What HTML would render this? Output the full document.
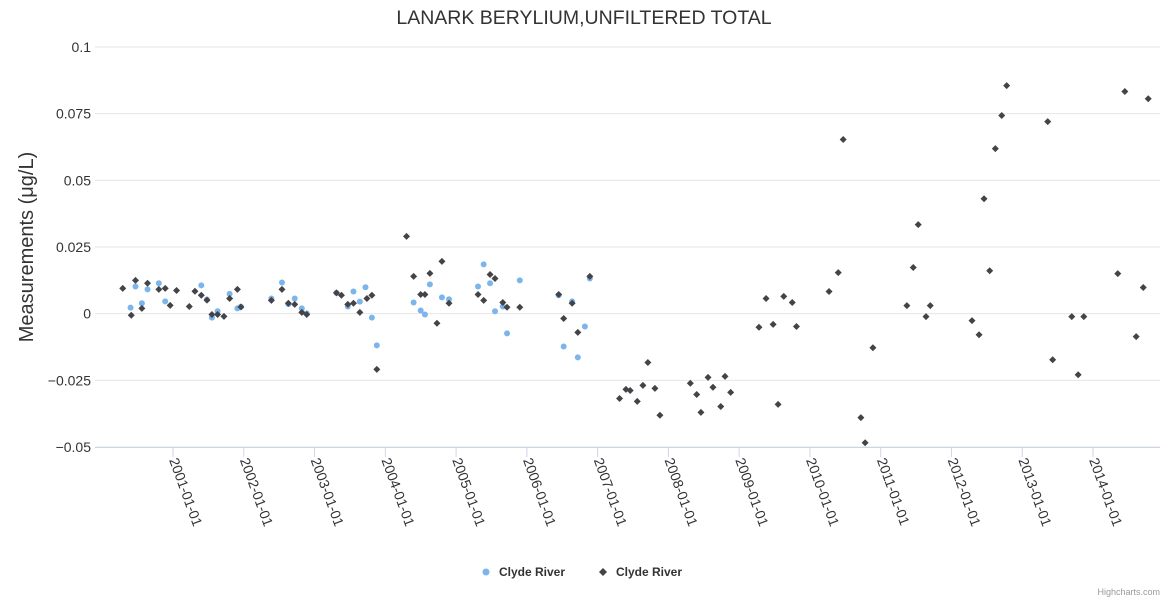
<!DOCTYPE html>
<html><head><meta charset="utf-8"><style>
body{margin:0;background:#fff;}
svg{display:block;font-family:"Liberation Sans",sans-serif;}
</style></head><body>
<svg id="chart" width="1170" height="600">
<text x="584" y="24" text-anchor="middle" font-size="19.5" fill="#333">LANARK BERYLIUM,UNFILTERED TOTAL</text>
<text transform="translate(33,247) rotate(-90)" text-anchor="middle" font-size="20" fill="#333">Measurements (μg/L)</text>
<g id="grid"></g><g id="xaxis"></g><g id="s1"></g><g id="s2"></g>
<g>
<g><circle cx="486" cy="572" r="3.5" fill="#7cb5ec"/><text x="499" y="576" font-size="12" font-weight="bold" fill="#333">Clyde River</text></g>
<g><path d="M603 568 L607 572 L603 576 L599 572Z" fill="#434348"/><text x="616" y="576" font-size="12" font-weight="bold" fill="#333">Clyde River</text></g>
</g>
<text x="1160" y="595" text-anchor="end" font-size="9" fill="#999">Highcharts.com</text>
</svg>
<script>
const yTicks=[-0.05,-0.025,0,0.025,0.05,0.075,0.1];
const yTickLabels=["−0.05","−0.025","0","0.025","0.05","0.075","0.1"];
const xTicks=[2001,2002,2003,2004,2005,2006,2007,2008,2009,2010,2011,2012,2013,2014];
const blueX=[2000.40,2000.47,2000.56,2000.64,2000.80,2000.89,2001.40,2001.48,2001.55,2001.63,2001.80,2001.91,2001.96,2002.39,2002.54,2002.63,2002.72,2002.82,2002.89,2003.31,2003.47,2003.55,2003.64,2003.72,2003.81,2003.88,2004.40,2004.50,2004.56,2004.63,2004.80,2004.90,2005.31,2005.39,2005.48,2005.55,2005.66,2005.72,2005.90,2006.45,2006.52,2006.64,2006.72,2006.82,2006.89];
const blueY=[0.00225,0.0102,0.0039,0.0091,0.0114,0.0046,0.0106,0.0053,-0.0015,0.0009,0.0074,0.0020,0.0026,0.0057,0.0117,0.0036,0.0057,0.0020,0.0001,0.0078,0.0027,0.0083,0.0045,0.0099,-0.0015,-0.0119,0.0042,0.0012,-0.0003,0.0110,0.0061,0.0054,0.0102,0.0185,0.0114,0.0009,0.0027,-0.0074,0.0125,0.0069,-0.0123,0.0046,-0.0164,-0.0048,0.0132];
const blackX=[2000.29,2000.41,2000.47,2000.56,2000.64,2000.80,2000.89,2000.96,2001.05,2001.23,2001.31,2001.40,2001.48,2001.55,2001.63,2001.72,2001.80,2001.91,2001.96,2002.39,2002.54,2002.63,2002.72,2002.82,2002.89,2003.31,2003.38,2003.47,2003.55,2003.64,2003.74,2003.81,2003.88,2004.30,2004.40,2004.50,2004.56,2004.63,2004.73,2004.80,2004.90,2005.31,2005.39,2005.48,2005.55,2005.66,2005.72,2005.90,2006.45,2006.52,2006.64,2006.72,2006.89,2007.31,2007.40,2007.46,2007.56,2007.64,2007.71,2007.81,2007.88,2008.31,2008.40,2008.46,2008.56,2008.63,2008.74,2008.80,2008.88,2009.28,2009.38,2009.48,2009.55,2009.63,2009.75,2009.81,2010.27,2010.40,2010.47,2010.72,2010.78,2010.89,2011.37,2011.46,2011.53,2011.64,2011.70,2012.29,2012.39,2012.46,2012.54,2012.62,2012.71,2012.78,2013.36,2013.43,2013.70,2013.79,2013.87,2014.35,2014.45,2014.61,2014.71,2014.78];
const blackY=[0.0095,-0.0006,0.0125,0.0020,0.0114,0.0091,0.0095,0.0031,0.0087,0.0027,0.0084,0.0069,0.0051,-0.0003,-0.0003,-0.0010,0.0057,0.0091,0.0025,0.0050,0.0091,0.0039,0.0035,0.0005,-0.0003,0.0078,0.0069,0.0035,0.0039,0.0005,0.0057,0.0069,-0.0209,0.0290,0.0140,0.0072,0.0072,0.0151,-0.0036,0.0196,0.0039,0.0072,0.0050,0.0147,0.0132,0.0042,0.0024,0.0024,0.0072,-0.0018,0.0039,-0.0070,0.0140,-0.0318,-0.0284,-0.0288,-0.0329,-0.0269,-0.0183,-0.0280,-0.0381,-0.0261,-0.0303,-0.0370,-0.0239,-0.0276,-0.0348,-0.0235,-0.0295,-0.0051,0.0057,-0.0040,-0.0340,0.0065,0.0042,-0.0048,0.0083,0.0154,0.0653,-0.0390,-0.0484,-0.0128,0.0030,0.0173,0.0334,-0.0011,0.0030,-0.0026,-0.0079,0.0431,0.0161,0.0619,0.0743,0.0855,0.0720,-0.0173,-0.0011,-0.0229,-0.0011,0.0150,0.0833,-0.0086,0.0098,0.0806];
const NS="http://www.w3.org/2000/svg";
const L=95,R=1160,T=47,B=447;
function xs(v){return 173+(v-2001)*70.77;}
function ys(v){return B-(v+0.05)/0.15*(B-T);}
function mk(t,a,p){const e=document.createElementNS(NS,t);for(const k in a)e.setAttribute(k,a[k]);p.appendChild(e);return e;}
const grid=document.getElementById('grid');
yTicks.forEach((t,i)=>{
  const ln=mk('line',{x1:L,x2:R,y1:ys(t),y2:ys(t),stroke:'#e6e6e6','stroke-width':1},grid);
  
  
  const tx=mk('text',{x:L-4,y:ys(t)+5,'text-anchor':'end','font-size':14,fill:'#333'},grid);
  tx.textContent=yTickLabels[i];
  
  
});
const xa=document.getElementById('xaxis');
const ax=mk('line',{x1:L,x2:R,y1:B+0.5,y2:B+0.5,stroke:'#ccd6eb'},xa);


xTicks.forEach(t=>{
  const x=xs(t);
  const tk=mk('line',{x1:x,x2:x,y1:B,y2:B+10,stroke:'#ccd6eb'},xa);
  
  
  const tx=mk('text',{transform:`translate(${x-4},${B+13}) rotate(70)`,'font-size':14,fill:'#333'},xa);
  tx.textContent=t+'-01-01';
  
  
});
const g1=document.getElementById('s1');
blueX.forEach((v,i)=>{
  const c=mk('circle',{cx:xs(v),cy:ys(blueY[i]),r:3,fill:'#7cb5ec'},g1);
  
  
});
const g2=document.getElementById('s2');
blackX.forEach((v,i)=>{
  const x=xs(v),y=ys(blackY[i]);
  const p=mk('path',{d:`M${x} ${y-3.5}L${x+3.5} ${y}L${x} ${y+3.5}L${x-3.5} ${y}Z`,fill:'#434348'},g2);
  
  
});
</script>
</body></html>
